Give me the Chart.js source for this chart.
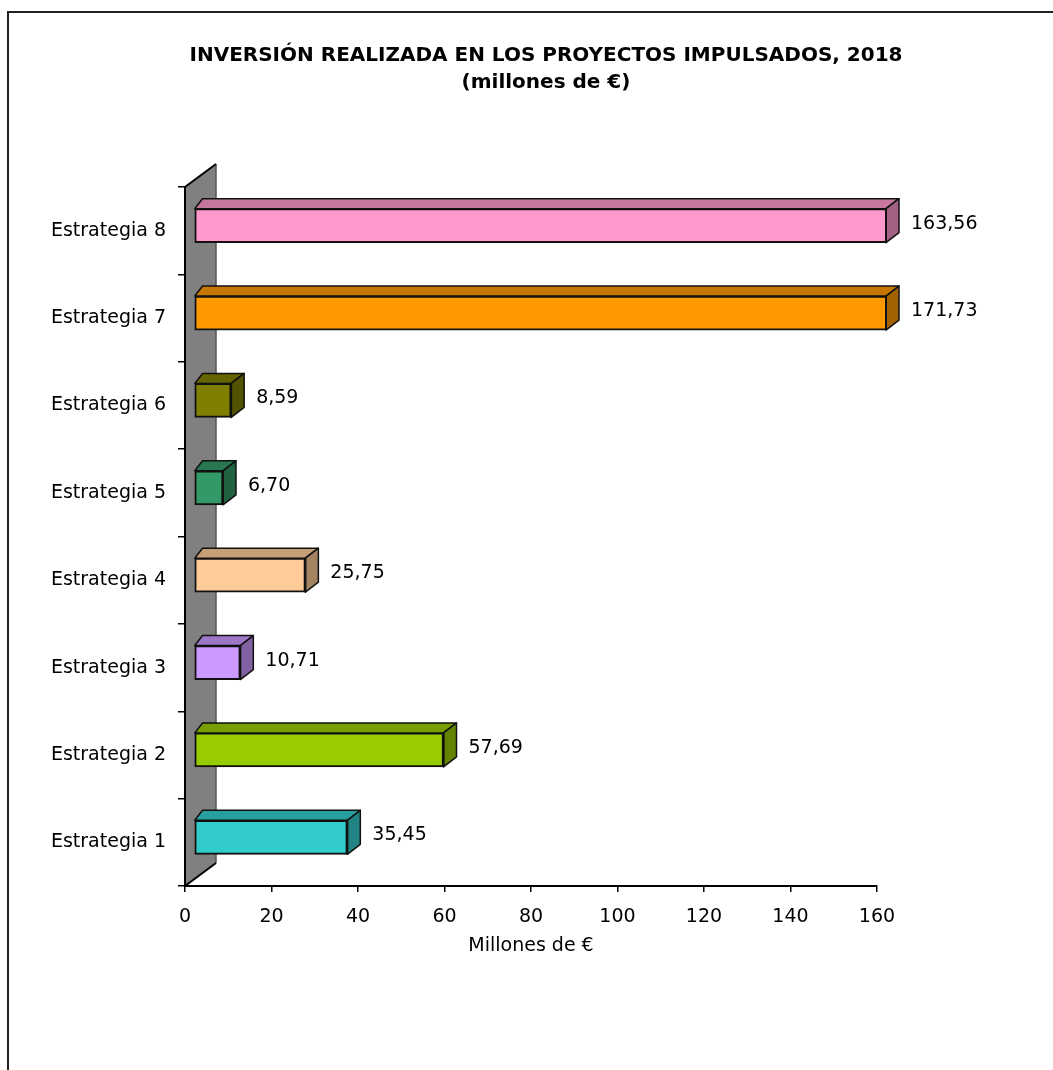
<!DOCTYPE html>
<html>
<head>
<meta charset="utf-8">
<script src="https://cdn.jsdelivr.net/npm/chart.js@4.4.0/dist/chart.umd.min.js"></script>
<style>
body { margin: 0; background: #fff; }
#chart { position: absolute; left: 0; top: 0; }
</style>
</head>
<body>
<canvas id="chart" width="1053" height="1070"></canvas>
<script>
// data
const categories = ['Estrategia 1', 'Estrategia 2', 'Estrategia 3', 'Estrategia 4',
                    'Estrategia 5', 'Estrategia 6', 'Estrategia 7', 'Estrategia 8'];
const values     = [35.45, 57.69, 10.71, 25.75, 6.70, 8.59, 171.73, 163.56];
const xTicks     = [0, 20, 40, 60, 80, 100, 120, 140, 160];
const titleLines = ['INVERSIÓN REALIZADA EN LOS PROYECTOS IMPULSADOS, 2018', '(millones de €)'];
const xTitle     = 'Millones de €';

const barColors = ['#33CCCC', '#99CC00', '#CC99FF', '#FFCC99',
                   '#339966', '#808000', '#FF9900', '#FF99CC'];

const FONT = '"DejaVu Sans", Verdana, sans-serif';

// fake 3d
const SHIFT_X = 9, SHIFT_Y = -5;   // front face offset from the axes
const BAR_DX = 13, BAR_DY = 10;    // bar depth
const WALL_DX = 31, WALL_DY = 23;  // side wall depth

function shade(hex, k) {
    const n = parseInt(hex.slice(1), 16);
    const r = Math.round(((n >> 16) & 255) * k);
    const g = Math.round(((n >> 8) & 255) * k);
    const b = Math.round((n & 255) * k);
    return 'rgb(' + r + ',' + g + ',' + b + ')';
}

function fmt(v) {
    return v.toFixed(2).replace('.', ',');
}

const frame = {
    id: 'frame',
    beforeDraw(chart) {
        const ctx = chart.ctx;
        ctx.save();
        ctx.fillStyle = '#fff';
        ctx.fillRect(0, 0, chart.width, chart.height);
        ctx.strokeStyle = '#222';
        ctx.lineWidth = 2;
        ctx.strokeRect(8, 12, 1200, 1200);

        ctx.fillStyle = '#000';
        ctx.textAlign = 'center';
        ctx.textBaseline = 'middle';
        ctx.font = 'bold 20px ' + FONT;
        ctx.fillText(titleLines[0], 546, 56);
        ctx.fillText(titleLines[1], 546, 83);
        ctx.restore();
    }
};

const depth = {
    id: 'depth',
    beforeDatasetsDraw(chart) {
        const ctx = chart.ctx;
        const a = chart.chartArea;

        // grey side wall
        ctx.save();
        ctx.beginPath();
        ctx.moveTo(a.left, a.top);
        ctx.lineTo(a.left + WALL_DX, a.top - WALL_DY);
        ctx.lineTo(a.left + WALL_DX, a.bottom - WALL_DY);
        ctx.lineTo(a.left, a.bottom);
        ctx.closePath();
        ctx.fillStyle = '#808080';
        ctx.fill();
        ctx.strokeStyle = '#555';
        ctx.lineWidth = 1.5;
        ctx.beginPath();
        ctx.moveTo(a.left + WALL_DX, a.top - WALL_DY);
        ctx.lineTo(a.left + WALL_DX, a.bottom - WALL_DY);
        ctx.stroke();
        ctx.strokeStyle = '#000';
        ctx.lineWidth = 2;
        ctx.beginPath();
        ctx.moveTo(a.left + WALL_DX, a.bottom - WALL_DY);
        ctx.lineTo(a.left, a.bottom);
        ctx.lineTo(a.left, a.top);
        ctx.lineTo(a.left + WALL_DX, a.top - WALL_DY);
        ctx.stroke();
        ctx.restore();

        // bars get drawn shifted into the box
        ctx.save();
        ctx.translate(SHIFT_X, SHIFT_Y);
    },
    afterDatasetsDraw(chart) {
        const ctx = chart.ctx;
        const a = chart.chartArea;
        const meta = chart.getDatasetMeta(0);
        const ends = [];

        meta.data.forEach((bar, i) => {
            const p = bar.getProps(['x', 'y', 'base', 'height'], true);
            const end = Math.min(p.x, a.right);
            const top = p.y - p.height / 2;
            const bot = p.y + p.height / 2;
            const c = barColors[i];
            ends.push([end, p.y]);

            ctx.lineWidth = 1.5;
            ctx.strokeStyle = '#111';
            ctx.lineJoin = 'round';

            // top face
            ctx.beginPath();
            ctx.moveTo(p.base, top);
            ctx.lineTo(p.base + BAR_DX * 0.6, top - BAR_DY);
            ctx.lineTo(end + BAR_DX, top - BAR_DY);
            ctx.lineTo(end, top);
            ctx.closePath();
            ctx.fillStyle = shade(c, 0.78);
            ctx.fill();
            ctx.stroke();

            // right face
            ctx.beginPath();
            ctx.moveTo(end, top);
            ctx.lineTo(end + BAR_DX, top - BAR_DY);
            ctx.lineTo(end + BAR_DX, bot - BAR_DY);
            ctx.lineTo(end, bot);
            ctx.closePath();
            ctx.fillStyle = shade(c, 0.64);
            ctx.fill();
            ctx.stroke();

            ctx.lineWidth = 2;
            ctx.beginPath();
            ctx.moveTo(end, top);
            ctx.lineTo(end, bot);
            ctx.stroke();
        });
        ctx.restore();

        // value labels
        ctx.save();
        ctx.fillStyle = '#000';
        ctx.font = '19px ' + FONT;
        ctx.textAlign = 'left';
        ctx.textBaseline = 'middle';
        ends.forEach((e, i) => {
            ctx.fillText(fmt(values[i]), e[0] + SHIFT_X + 25, e[1] + SHIFT_Y - 2);
        });
        ctx.restore();
    }
};

new Chart(document.getElementById('chart'), {
    type: 'bar',
    data: {
        labels: categories,
        datasets: [{
            data: values,
            backgroundColor: barColors,
            borderColor: '#111',
            borderWidth: 2,
            borderSkipped: false,
            barThickness: 34,
            clip: { left: 40, top: 40, right: 0, bottom: 40 }
        }]
    },
    options: {
        indexAxis: 'y',
        responsive: false,
        animation: false,
        devicePixelRatio: 1,
        layout: { padding: { top: 187, right: 176, bottom: 113, left: 0 } },
        plugins: {
            legend: { display: false },
            tooltip: { enabled: false },
            title: { display: false }
        },
        scales: {
            x: {
                type: 'linear',
                min: xTicks[0],
                max: xTicks[xTicks.length - 1],
                afterBuildTicks(s) { s.ticks = xTicks.map(v => ({ value: v })); },
                afterFit(s) { s.height = 71; },
                ticks: { color: '#000', font: { family: FONT, size: 19 }, padding: 14 },
                grid: { drawOnChartArea: false, color: '#000', lineWidth: 1.5, tickLength: 6 },
                border: { color: '#000', width: 2 },
                title: {
                    display: true,
                    text: xTitle,
                    color: '#000',
                    font: { family: FONT, size: 19 },
                    padding: 0
                }
            },
            y: {
                type: 'category',
                reverse: true,
                afterFit(s) { s.width = 185; },
                ticks: { color: '#000', font: { family: FONT, size: 19 }, padding: 12 },
                grid: { drawOnChartArea: false, color: '#000', lineWidth: 1.5, tickLength: 7 },
                border: { color: '#000', width: 2 }
            }
        }
    },
    plugins: [frame, depth]
});
</script>
</body>
</html>
